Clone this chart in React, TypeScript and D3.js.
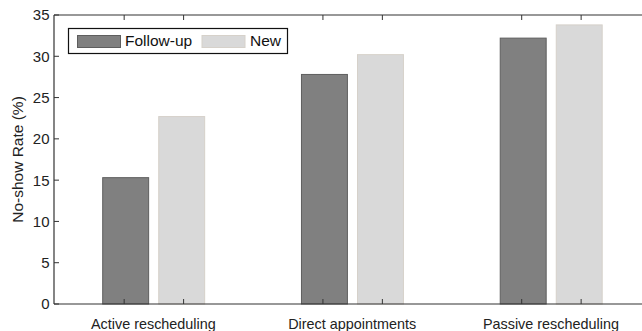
import React from "react";
import * as d3 from "d3";

const categories = ["Active rescheduling", "Direct appointments", "Passive rescheduling"];
const seriesNames = ["Follow-up", "New"];
const followUpValues = [15.3, 27.8, 32.2];
const newValues = [22.7, 30.2, 33.8];
const yTicks = [0, 5, 10, 15, 20, 25, 30, 35];

const W = 642;
const H = 331;
const margin = { left: 54, top: 15, bottom: 304, right: 650.3 };
const FONT = "'Liberation Sans', Arial, Helvetica, sans-serif";

const fills: Record<string, string> = { "Follow-up": "#808080", New: "#d9d9d9" };
const strokes: Record<string, string> = { "Follow-up": "#5e5e5e", New: "#d6d1ca" };

export default function App() {
  const x = d3.scaleBand<string>().domain(categories).range([margin.left, margin.right]).padding(0);
  const step = x.step();
  const x1 = d3
    .scaleBand<string>()
    .domain(seriesNames)
    .range([step * 0.245, step * 0.758])
    .paddingInner(0.18);
  const y = d3.scaleLinear().domain([0, 35]).range([margin.bottom, margin.top]);

  const valuesBySeries: Record<string, number[]> = {
    "Follow-up": followUpValues,
    New: newValues,
  };

  const tickFracs = [0.353, 0.652];
  const axisColor = "#333";

  return (
    <svg
      width={W}
      height={H}
      style={{ position: "absolute", left: 0, top: 0, display: "block", background: "#fff" }}
      fontFamily={FONT}
    >
      {/* bars */}
      {categories.map((c, i) =>
        seriesNames.map((s) => {
          const v = valuesBySeries[s][i];
          const bx = (x(c) as number) + (x1(s) as number);
          return (
            <rect
              key={c + s}
              x={bx}
              y={y(v)}
              width={x1.bandwidth()}
              height={y(0) - y(v)}
              fill={fills[s]}
              stroke={strokes[s]}
              strokeWidth={1}
            />
          );
        })
      )}

      {/* frame */}
      <line x1={margin.left} x2={W} y1={margin.top} y2={margin.top} stroke={axisColor} strokeWidth={1.2} />
      <line x1={margin.left} x2={W} y1={margin.bottom} y2={margin.bottom} stroke={axisColor} strokeWidth={1.2} />
      <line x1={margin.left} x2={margin.left} y1={margin.top} y2={margin.bottom} stroke={axisColor} strokeWidth={1.2} />

      {/* y ticks */}
      {yTicks.map((t) => (
        <g key={t}>
          <line x1={margin.left} x2={margin.left + 5} y1={y(t)} y2={y(t)} stroke={axisColor} strokeWidth={1} />
          <text x={margin.left - 4.5} y={y(t)} dy="0.36em" textAnchor="end" fontSize={15} fill="#222">
            {t}
          </text>
        </g>
      ))}

      {/* x ticks on top and bottom edges */}
      {categories.map((c) =>
        tickFracs.map((f) => {
          const tx = (x(c) as number) + step * f;
          return (
            <g key={c + f}>
              <line x1={tx} x2={tx} y1={margin.top} y2={margin.top + 5} stroke={axisColor} strokeWidth={1} />
              <line x1={tx} x2={tx} y1={margin.bottom} y2={margin.bottom - 5} stroke={axisColor} strokeWidth={1} />
            </g>
          );
        })
      )}

      {/* category labels */}
      {categories.map((c) => (
        <text
          key={c}
          x={(x(c) as number) + step / 2}
          y={328.5}
          textAnchor="middle"
          fontSize={14.4}
          fill="#222"
        >
          {c}
        </text>
      ))}

      {/* y axis title */}
      <text
        transform={`translate(23,${(margin.top + margin.bottom) / 2}) rotate(-90)`}
        textAnchor="middle"
        fontSize={15.5}
        fill="#222"
      >
        No-show Rate (%)
      </text>

      {/* legend */}
      <g>
        <rect x={68.5} y={28.5} width={219} height={25} fill="#fff" stroke="#111" strokeWidth={1.2} />
        <rect x={77.5} y={35.5} width={43} height={12} fill={fills["Follow-up"]} stroke={strokes["Follow-up"]} />
        <text x={125} y={45.5} fontSize={15.5} fill="#111">
          Follow-up
        </text>
        <rect x={202} y={35.5} width={43} height={12} fill={fills.New} stroke={strokes.New} />
        <text x={250} y={45.5} fontSize={15.5} fill="#111">
          New
        </text>
      </g>
    </svg>
  );
}
